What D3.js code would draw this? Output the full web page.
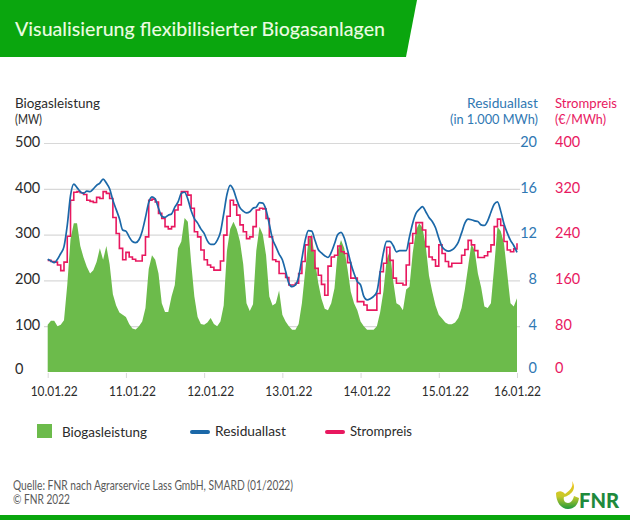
<!DOCTYPE html>
<html>
<head>
<meta charset="utf-8">
<script src="https://cdn.jsdelivr.net/npm/d3@7"></script>
<style>
  html, body { margin: 0; padding: 0; background: #fff; }
  svg { display: block; }
  text { font-family: Lato, "Noto Sans", sans-serif; }
  .axis .domain { display: none; }
</style>
</head>
<body>
<div id="chart"></div>
<script>
// hourly readings, 10.01.22 00:00 to 16.01.22 00:00
var biogasMW = [
  103,112,112,100,103,113,190,290,325,325,275,250,230,215,222,240,270,245,275,235,170,145,130,125,
  120,105,95,93,100,110,140,225,255,245,215,150,131,131,165,190,270,285,336,328,240,165,120,105,
  103,108,118,105,100,110,145,265,312,328,312,285,235,150,133,148,265,317,300,255,165,145,150,178,
  125,110,100,92,92,105,150,220,288,300,245,195,160,138,135,150,183,265,288,270,225,175,150,135,
  110,100,92,92,92,100,130,175,245,265,200,150,146,135,180,186,260,310,325,315,275,210,175,145,
  125,117,108,104,104,108,118,140,180,230,280,265,215,185,143,140,150,230,317,308,281,215,150,143,161
];
var residuallast = [
  9.85,9.7,9.55,9.85,10.35,10.95,12.8,15.4,16.4,16.1,15.75,15.6,15.8,15.75,16.0,16.3,16.5,16.85,16.5,16.0,15.0,14.2,13.4,12.4,
  12.3,11.8,11.4,11.3,11.55,12.3,13.5,14.8,15.3,15.1,14.3,13.6,13.5,13.7,13.8,14.4,14.85,15.6,15.7,15.1,14.1,13.4,13.0,12.5,
  12.1,11.45,11.15,11.15,11.5,12.2,13.8,15.5,16.3,15.9,15.05,14.35,14.05,13.9,14.0,14.3,14.4,14.8,14.75,14.15,12.9,11.6,10.95,10.3,
  9.8,8.8,7.75,7.45,7.6,8.3,9.9,11.5,12.35,12.3,11.5,10.7,10.4,10.15,10.0,10.45,11.2,12.0,12.2,11.7,10.65,9.5,8.6,7.9,
  7.6,6.6,6.3,6.4,6.6,7.0,8.7,10.4,11.4,11.4,11.05,10.5,10.6,10.6,10.6,11.8,13.0,13.85,14.2,14.45,14.0,13.5,13.15,12.6,
  11.7,10.95,10.65,10.55,10.65,10.9,11.35,12.15,13.0,13.35,13.3,13.2,13.15,12.85,12.8,13.2,13.95,14.65,14.85,14.05,12.95,12.15,11.5,11.05,10.45
];
var strompreis = [
  195,193,192,187,177,192,237,300,314,315,313,310,300,298,296,305,303,315,312,303,270,242,216,196,
  209,201,197,194,194,204,236,300,302,297,277,268,254,250,254,283,292,315,315,309,286,245,236,213,
  196,187,183,178,178,194,239,272,300,292,274,257,245,233,236,254,283,286,285,268,236,196,193,172,
  172,165,152,152,155,172,193,222,236,212,181,169,153,134,185,201,204,220,210,207,191,164,164,123,
  123,117,108,108,108,137,175,190,218,195,164,155,155,152,187,225,242,261,261,248,219,201,196,185,
  222,207,193,184,190,190,190,204,214,230,222,212,200,200,203,210,222,254,267,256,228,213,210,215,225
];
var dayLabels = ["10.01.22", "11.01.22", "12.01.22", "13.01.22", "14.01.22", "15.01.22", "16.01.22"];
var biogasTicks = [0, 100, 200, 300, 400, 500];
var residualTicks = [0, 4, 8, 12, 16, 20];
var priceTicks = [0, 80, 160, 240, 320, 400];

var width = 630, height = 520;
var plot = { left: 47.7, right: 517, top: 143, bottom: 372 };

var colGreen = "#0aa60e", colArea = "#6cbb4b", colBlue = "#1b68a8", colBlueText = "#2f78b3",
  colPink = "#e8185f", colGrid = "#d8d8d8", colText = "#2b2b2b";

var svg = d3.select("#chart").append("svg")
  .attr("width", width)
  .attr("height", height);

// header band and footer band
svg.append("path")
  .attr("d", "M0,0H417L406,57H0Z")
  .attr("fill", colGreen);
svg.append("text")
  .attr("x", 15).attr("y", 36)
  .attr("textLength", 370).attr("lengthAdjust", "spacingAndGlyphs")
  .attr("fill", "#eafbe0")
  .style("font-size", "19px").style("font-weight", 500)
  .text("Visualisierung flexibilisierter Biogasanlagen");
svg.append("rect")
  .attr("x", 0).attr("y", 515).attr("width", width).attr("height", 5)
  .attr("fill", colGreen);

// scales
var x = d3.scaleLinear().domain([0, biogasMW.length - 1]).range([plot.left, plot.right]);
var yBio = d3.scaleLinear().domain([0, 500]).range([plot.bottom, plot.top]);
var yRes = d3.scaleLinear().domain([0, 20]).range([plot.bottom, plot.top]);
var yPrice = d3.scaleLinear().domain([0, 400]).range([plot.bottom, plot.top]);

// left axis carries the grid
var leftAxis = svg.append("g")
  .attr("class", "axis")
  .attr("transform", "translate(" + plot.left + ",0)")
  .call(d3.axisLeft(yBio).tickValues(biogasTicks).tickSize(0).tickPadding(0));
leftAxis.selectAll("line")
  .attr("x1", -3.7)
  .attr("x2", 520 - plot.left)
  .attr("stroke", colGrid)
  .attr("stroke-width", 1.2)
  .filter(function(d) { return d === 0; }).remove();
leftAxis.selectAll("text")
  .attr("x", 15 - plot.left)
  .attr("dy", function(d) { return d === 0 ? "0.1em" : "0.22em"; })
  .attr("fill", colText)
  .style("text-anchor", "start")
  .style("font-size", "14.5px");

// right axes
var blueAxis = svg.append("g")
  .attr("class", "axis")
  .attr("transform", "translate(537,0)")
  .call(d3.axisRight(yRes).tickValues(residualTicks).tickSize(0).tickPadding(0));
blueAxis.selectAll("text")
  .attr("dy", function(d) { return d === 0 ? "0.05em" : "0.22em"; })
  .attr("fill", colBlueText)
  .style("text-anchor", "end")
  .style("font-size", "14.5px");

var pinkAxis = svg.append("g")
  .attr("class", "axis")
  .attr("transform", "translate(555,0)")
  .call(d3.axisRight(yPrice).tickValues(priceTicks).tickSize(0).tickPadding(0));
pinkAxis.selectAll("text")
  .attr("dy", function(d) { return d === 0 ? "0.05em" : "0.22em"; })
  .attr("fill", colPink)
  .style("text-anchor", "start")
  .style("font-size", "14.5px");

// time axis
var xAxis = svg.append("g")
  .attr("class", "axis")
  .attr("transform", "translate(0," + (plot.bottom + 1) + ")")
  .call(d3.axisBottom(x)
    .tickValues(dayLabels.map(function(d, i) { return i * 24; }))
    .tickFormat(function(d) { return dayLabels[d / 24]; })
    .tickSize(5).tickPadding(8));
xAxis.selectAll("line").attr("stroke", colGrid);
xAxis.selectAll("text")
  .attr("dx", function(d) { return d === 144 ? 0 : 6; })
  .attr("textLength", 47)
  .attr("lengthAdjust", "spacingAndGlyphs")
  .attr("fill", colText)
  .style("font-size", "13.5px");

// biogas area
var area = d3.area()
  .x(function(d, i) { return x(i); })
  .y0(plot.bottom)
  .y1(function(d) { return yBio(d); });
svg.append("path")
  .datum(biogasMW)
  .attr("d", area)
  .attr("fill", colArea);

// price steps, then load on top
var priceLine = d3.line()
  .curve(d3.curveStepAfter)
  .x(function(d, i) { return x(i); })
  .y(function(d) { return yPrice(d); });
svg.append("path")
  .datum(strompreis)
  .attr("d", priceLine)
  .attr("fill", "none")
  .attr("stroke", colPink)
  .attr("stroke-width", 1.6);

var resLine = d3.line()
  .curve(d3.curveMonotoneX)
  .x(function(d, i) { return x(i); })
  .y(function(d) { return yRes(d); });
svg.append("path")
  .datum(residuallast)
  .attr("d", resLine)
  .attr("fill", "none")
  .attr("stroke", colBlue)
  .attr("stroke-width", 1.7);

// labels, squeezed to the narrow widths of the original face
function label(txt, xp, yp, anchor, fill, size, len) {
  return svg.append("text")
    .attr("x", xp).attr("y", yp)
    .attr("fill", fill)
    .attr("textLength", len)
    .attr("lengthAdjust", "spacingAndGlyphs")
    .style("text-anchor", anchor)
    .style("font-size", size + "px")
    .text(txt);
}
label("Biogasleistung", 15, 108, "start", colText, 14, 85);
label("(MW)", 15, 124, "start", colText, 14, 27);
label("Residuallast", 538, 108, "end", colBlueText, 14, 71);
label("(in 1.000 MWh)", 538, 124, "end", colBlueText, 14, 88);
label("Strompreis", 555, 108, "start", colPink, 14, 62);
label("(€/MWh)", 555, 124, "start", colPink, 14, 51);

// legend
svg.append("rect")
  .attr("x", 37).attr("y", 424).attr("width", 15).attr("height", 14)
  .attr("fill", colArea);
label("Biogasleistung", 62, 437, "start", colText, 14, 85);
svg.append("line")
  .attr("x1", 192).attr("x2", 208).attr("y1", 432).attr("y2", 432)
  .attr("stroke", colBlue).attr("stroke-width", 4).attr("stroke-linecap", "round");
label("Residuallast", 215, 436, "start", colText, 14, 71);
svg.append("line")
  .attr("x1", 327).attr("x2", 343).attr("y1", 432).attr("y2", 432)
  .attr("stroke", colPink).attr("stroke-width", 4).attr("stroke-linecap", "round");
label("Strompreis", 350, 436, "start", colText, 14, 62);

// source
label("Quelle: FNR nach Agrarservice Lass GmbH, SMARD (01/2022)", 13, 490, "start", "#5a5a5a", 12.5, 280);
label("© FNR 2022", 13, 504, "start", "#5a5a5a", 12.5, 57);

// logo
var logoGrad = svg.append("defs").append("linearGradient")
  .attr("id", "logoGrad")
  .attr("x1", 0).attr("y1", 0).attr("x2", 0).attr("y2", 1);
logoGrad.append("stop").attr("offset", "0%").attr("stop-color", "#f3c31a");
logoGrad.append("stop").attr("offset", "55%").attr("stop-color", "#c7c92a");
logoGrad.append("stop").attr("offset", "100%").attr("stop-color", "#1d9a3c");
svg.append("path")
  .attr("d", "M572,481C574,487 569,491 565,494C562,490 558,491 556,493C556,502 561,509 568,509C574,509 578,505 579,498L574,496C573,500 571,503 568,503C565,503 563,500 564,497C569,496 578,490 572,481Z")
  .attr("fill", "url(#logoGrad)");
svg.append("text")
  .attr("x", 619).attr("y", 508)
  .attr("fill", "#1f8a3c")
  .attr("textLength", 40).attr("lengthAdjust", "spacingAndGlyphs")
  .style("text-anchor", "end")
  .style("font-size", "20px").style("font-weight", 900)
  .text("FNR");
</script>
</body>
</html>
